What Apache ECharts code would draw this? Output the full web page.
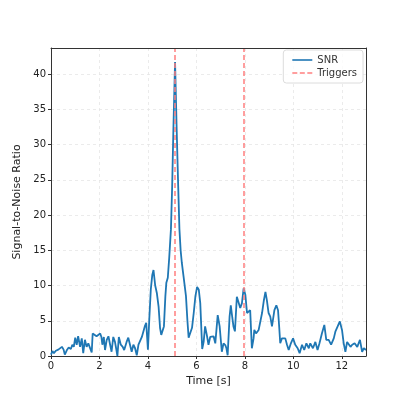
<!DOCTYPE html>
<html><head><meta charset="utf-8">
<script src="https://cdn.jsdelivr.net/npm/echarts@6/dist/echarts.min.js"></script>
<style>html,body{margin:0;padding:0;background:#fff}#c{width:407px;height:407px}</style>
</head><body><div id="c"></div>
<script>
const time = [0.00,0.06,0.12,0.20,0.30,0.38,0.45,0.52,0.57,0.65,0.73,0.82,0.88,0.94,1.00,1.06,1.12,1.20,1.27,1.33,1.40,1.47,1.54,1.61,1.68,1.72,1.80,1.88,1.96,2.03,2.08,2.12,2.18,2.23,2.30,2.37,2.44,2.50,2.57,2.64,2.70,2.74,2.80,2.88,2.96,3.02,3.12,3.19,3.26,3.33,3.40,3.47,3.54,3.61,3.68,3.75,3.82,3.87,3.93,4.00,4.06,4.12,4.18,4.23,4.30,4.37,4.44,4.50,4.55,4.62,4.66,4.72,4.76,4.82,4.88,4.95,5.00,5.05,5.12,5.18,5.25,5.30,5.35,5.40,5.47,5.57,5.63,5.68,5.75,5.82,5.89,5.96,6.03,6.10,6.16,6.24,6.30,6.36,6.43,6.50,6.57,6.64,6.71,6.78,6.88,6.96,7.05,7.12,7.20,7.24,7.29,7.37,7.42,7.48,7.53,7.59,7.67,7.74,7.81,7.88,7.95,8.02,8.09,8.15,8.22,8.29,8.36,8.39,8.46,8.57,8.64,8.71,8.78,8.85,8.91,8.98,9.05,9.12,9.22,9.30,9.37,9.42,9.46,9.53,9.60,9.67,9.74,9.81,9.90,9.99,10.08,10.18,10.26,10.36,10.45,10.54,10.64,10.70,10.81,10.91,11.00,11.08,11.18,11.28,11.36,11.46,11.56,11.67,11.74,11.83,11.92,12.01,12.08,12.15,12.22,12.29,12.36,12.43,12.53,12.64,12.75,12.84,12.91,13.00];
const snr = [0.2,0.7,0.4,0.75,0.9,1.0,1.3,0.9,0.2,0.8,1.2,1.0,1.6,1.3,2.6,1.6,2.8,1.3,2.5,0.4,2.3,1.3,1.8,1.6,0.5,3.2,3.4,2.8,2.8,3.2,2.7,1.6,2.7,0.85,2.3,2.8,1.6,0.6,2.7,2.0,0.85,0.0,2.7,1.6,1.3,0.85,2.0,2.6,1.6,0.6,1.6,1.1,0.1,1.6,1.8,2.7,2.5,4.2,4.7,0.9,5.5,9.5,11.5,12.2,10.0,8.9,7.0,4.0,3.0,3.2,4.2,8.5,10.4,11.1,14,18,24,32,41.7,33,24,18,15,13.2,11.3,8.5,5,2.6,2.8,4.0,6.1,8.5,9.8,9.4,7.5,1.0,2.0,4.2,3.0,1.6,2.7,2.5,2.8,1.8,5.8,4.2,0.6,1.8,1.5,1.1,0.1,5.6,7.2,5.5,4.2,3.5,8.4,8.6,6.8,7.5,9.6,8.7,6.1,6.3,6.5,1.1,2.5,3.7,3.2,3.7,3.9,6.1,7.8,9.1,7.9,6.1,5.6,4.2,6.5,7.2,6.5,4,1.8,2.5,2.6,2.5,1.6,0.85,1.8,2.5,1.6,1.1,0.4,1.6,0.85,1.8,1.1,1.8,1.1,2.0,0.85,1.8,3.2,4.4,2.3,2.3,1.6,2.5,3.5,4.2,4.9,3.7,1.8,0.6,2.0,1.8,1.3,1.6,1.8,1.3,2.3,0.6,1.1,0.85];
const triggerTimes = [5.12, 7.95];
const xTicks = [0,2,4,6,8,10,12];
const yTicks = [0,5,10,15,20,25,30,35,40];

const font = 'DejaVu Sans';
const chart = echarts.init(document.getElementById('c'), null, {renderer:'canvas'});
const trigColor = '#ff7f7f';
const blue = '#1f77b4';
const frame = {show:true,onZero:false,lineStyle:{color:'#333',width:1}};
const hidden = {axisTick:{show:false},axisLabel:{show:false},splitLine:{show:false}};
chart.setOption({
  animation:false,
  textStyle:{fontFamily:font},
  grid:{left:51,right:41,top:48,bottom:51,show:false,containLabel:false},
  legend:{
    orient:'vertical', right:44, top:50, itemWidth:20, itemHeight:10, itemGap:3,
    backgroundColor:'rgba(255,255,255,0.8)', borderColor:'#dcdcdc', borderWidth:1, borderRadius:3,
    padding:[5,6,5,9],
    textStyle:{fontFamily:font,fontSize:10,color:'#333'},
    data:[
      {name:'SNR', icon:'path://M0,0H20V1.6H0Z'},
      {name:'Triggers', icon:'path://M0,0H5V1.4H0Z M7.5,0H12.5V1.4H7.5Z M15,0H20V1.4H15Z'}
    ]
  },
  xAxis:[{
    type:'value', min:0, max:13, interval:2,
    name:'Time [s]', nameLocation:'middle', nameGap:20,
    nameTextStyle:{fontFamily:font,fontSize:11,color:'#222'},
    axisLine:frame,
    axisTick:{show:true,length:3,lineStyle:{color:'#333'}},
    axisLabel:{fontFamily:font,fontSize:10,color:'#222',margin:5,showMaxLabel:false,
      formatter:v=>xTicks.includes(v)?String(v):''},
    splitLine:{show:true,lineStyle:{color:'#e6e6e6',type:[3,3],width:0.8}}
  },{
    type:'value', min:0, max:13, position:'top', axisLine:frame, z:5, ...hidden
  }],
  yAxis:[{
    type:'value', min:0, max:43.7, interval:5,
    name:'Signal-to-Noise Ratio', nameLocation:'middle', nameGap:23, nameRotate:90,
    nameTextStyle:{fontFamily:font,fontSize:11,color:'#222'},
    axisLine:frame,
    axisTick:{show:true,length:3,lineStyle:{color:'#333'}},
    axisLabel:{fontFamily:font,fontSize:10,color:'#222',margin:5,showMaxLabel:false,
      formatter:v=>yTicks.includes(v)?String(v):''},
    splitLine:{show:true,lineStyle:{color:'#e6e6e6',type:[3,3],width:0.8}}
  },{
    type:'value', min:0, max:43.7, position:'right', axisLine:frame, z:5, ...hidden
  }],
  series:[
    {name:'SNR', type:'line', data:time.map((t,i)=>[t,snr[i]]), showSymbol:false, symbol:'none',
     lineStyle:{color:blue,width:1.8}, itemStyle:{color:blue}, z:2},
    {name:'Triggers', type:'line', data:[], symbol:'none',
     lineStyle:{color:trigColor,width:1.5,type:[5,3]}, itemStyle:{color:trigColor},
     markLine:{silent:true,symbol:'none',label:{show:false},
       lineStyle:{color:trigColor,width:1.5,type:[5,3],opacity:1},
       emphasis:{disabled:true},
       data:triggerTimes.map(t=>({xAxis:t}))}, z:3}
  ]
});
</script></body></html>
